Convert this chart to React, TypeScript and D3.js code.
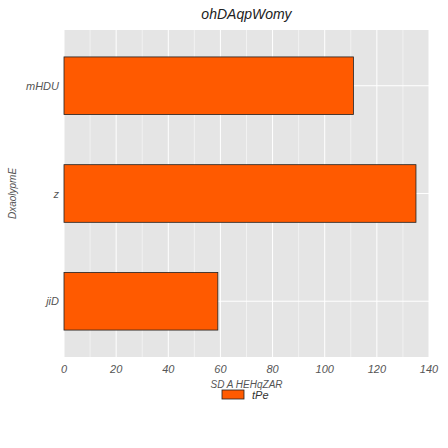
import React from "react";
import * as d3 from "d3";

const categories = ["mHDU", "z", "jiD"];
const values = [111, 135, 59];
const xTicks = [0, 20, 40, 60, 80, 100, 120, 140];
const title = "ohDAqpWomy";
const xLabel = "SD A HEHqZAR";
const yLabel = "DxaolypmE";
const seriesName = "tPe";

export default function App() {
  const W = 448, H = 448;
  const m = { l: 64, r: 19, t: 30, b: 91 };
  const x = d3.scaleLinear().domain([0, 140]).range([m.l, W - m.r]);
  const y = d3.scaleBand().domain(categories).range([m.t, H - m.b]).paddingInner(0.465).paddingOuter(0.25);
  const font = "'Liberation Sans', Arial, sans-serif";
  const minor = d3.range(0, 141, 10);
  return (
    <svg width={W} height={H} style={{ position: "absolute", left: 0, top: 0 }} fontFamily={font} fontStyle="italic">
      <rect width={W} height={H} fill="#fff" />
      <rect x={m.l} y={m.t} width={W - m.l - m.r} height={H - m.t - m.b} fill="#e5e5e5" />
      {minor.map(t => (
        <line key={t} x1={x(t)} x2={x(t)} y1={m.t} y2={H - m.b} stroke="#fff" strokeWidth={t % 20 === 0 ? 1 : 0.5} />
      ))}
      {categories.map(c => (
        <line key={c} x1={m.l} x2={W - m.r} y1={y(c)! + y.bandwidth() / 2} y2={y(c)! + y.bandwidth() / 2} stroke="#fff" />
      ))}
      {categories.map((c, i) => (
        <rect key={c} x={x(0)} y={y(c)} width={x(values[i]) - x(0)} height={y.bandwidth()} fill="#ff5a00" stroke="#222" strokeWidth={0.8} />
      ))}
      {xTicks.map(t => (
        <text key={t} x={x(t)} y={H - m.b + 16} textAnchor="middle" fontSize={11} fill="#555">{t}</text>
      ))}
      {categories.map(c => (
        <text key={c} x={m.l - 5} y={y(c)! + y.bandwidth() / 2 + 4} textAnchor="end" fontSize={11} fill="#555">{c}</text>
      ))}
      <text x={(m.l + W - m.r) / 2} y={H - m.b + 31} textAnchor="middle" fontSize={10} fill="#555">{xLabel}</text>
      <text transform={`translate(16,${(m.t + H - m.b) / 2}) rotate(-90)`} textAnchor="middle" fontSize={10} fill="#555">{yLabel}</text>
      <text x={(m.l + W - m.r) / 2} y={19} textAnchor="middle" fontSize={14} fill="#222">{title}</text>
      <rect x={222} y={390} width={22} height={9} fill="#ff5a00" stroke="#222" strokeWidth={0.8} />
      <text x={252} y={399} fontSize={11} fill="#333">{seriesName}</text>
    </svg>
  );
}
